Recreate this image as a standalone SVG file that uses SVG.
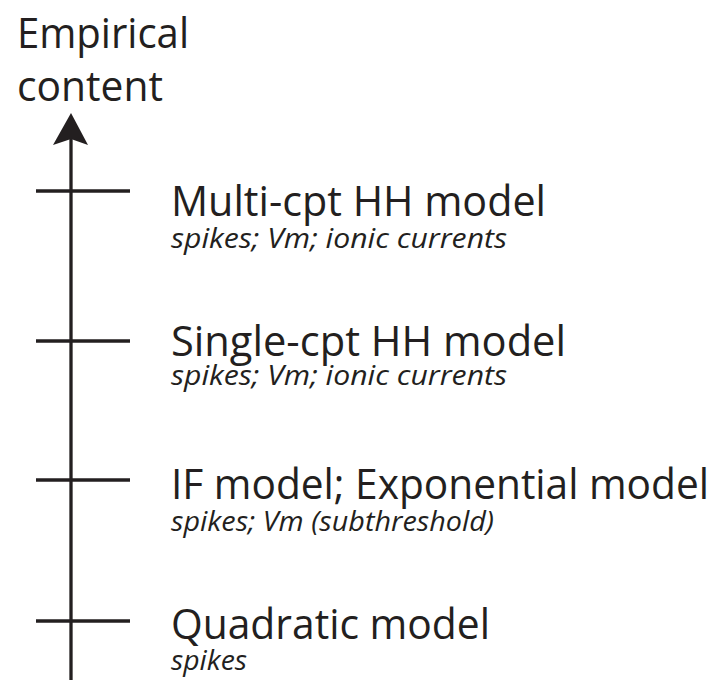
<svg xmlns="http://www.w3.org/2000/svg" width="718" height="680" viewBox="0 0 718 680">
<style>
.t{font-family:"Open Sans","Noto Sans","Liberation Sans",sans-serif;fill:#231f20}
.m{font-size:42px}
.s{font-size:27px;font-style:italic}
.ln{stroke:#231f20;stroke-width:3.3;fill:none}
</style>
<rect width="718" height="680" fill="#fff"/>
<g id="axis-label">
<text class="t m" x="17" y="48" textLength="172" lengthAdjust="spacingAndGlyphs">Empirical</text>
<text class="t m" x="17" y="101" textLength="146" lengthAdjust="spacingAndGlyphs">content</text>
</g>
<g id="connectors">
<line class="ln" x1="71" y1="135" x2="71" y2="680"/>
<path d="M71,113 L88,145 L71,139 L53,145 Z" fill="#231f20"/>
</g>
<g id="node-multi">
<line class="ln" x1="36" y1="191" x2="130" y2="191"/>
<text class="t m" x="171" y="216" textLength="375" lengthAdjust="spacingAndGlyphs">Multi-cpt HH model</text>
<text class="t s" x="171" y="248" textLength="336" lengthAdjust="spacingAndGlyphs">spikes; Vm; ionic currents</text>
</g>
<g id="node-single">
<line class="ln" x1="36" y1="341" x2="130" y2="341"/>
<text class="t m" x="171" y="356" textLength="395" lengthAdjust="spacingAndGlyphs">Single-cpt HH model</text>
<text class="t s" x="171" y="385" textLength="336" lengthAdjust="spacingAndGlyphs">spikes; Vm; ionic currents</text>
</g>
<g id="node-if">
<line class="ln" x1="36" y1="480" x2="130" y2="480"/>
<text class="t m" x="171" y="499" textLength="538" lengthAdjust="spacingAndGlyphs">IF model; Exponential model</text>
<text class="t s" x="171" y="531" textLength="323" lengthAdjust="spacingAndGlyphs">spikes; Vm (subthreshold)</text>
</g>
<g id="node-quadratic">
<line class="ln" x1="36" y1="621" x2="130" y2="621"/>
<text class="t m" x="171" y="639" textLength="319" lengthAdjust="spacingAndGlyphs">Quadratic model</text>
<text class="t s" x="171" y="670" textLength="76" lengthAdjust="spacingAndGlyphs">spikes</text>
</g>
</svg>
